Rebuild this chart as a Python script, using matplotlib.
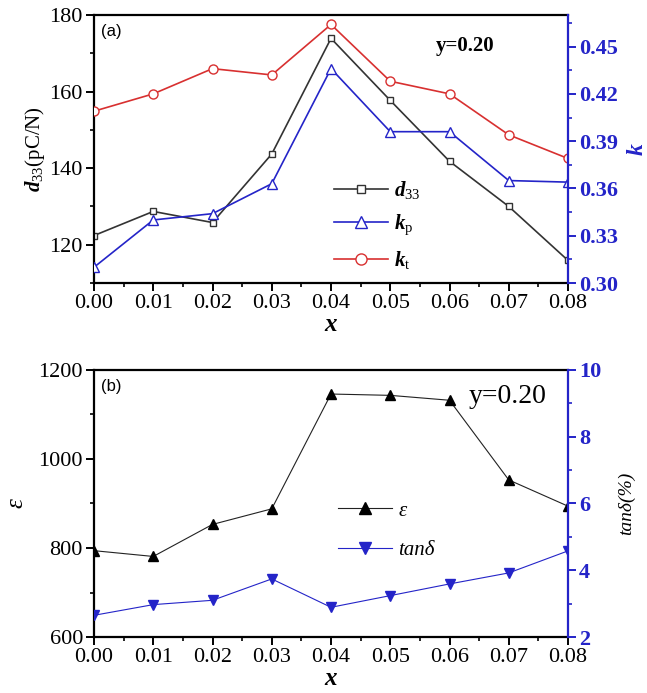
import matplotlib
matplotlib.use("Agg")
import matplotlib.pyplot as plt
from matplotlib.ticker import MultipleLocator
from matplotlib.lines import Line2D

plt.rcParams['font.family'] = 'Liberation Serif'
plt.rcParams['mathtext.fontset'] = 'custom'
plt.rcParams['mathtext.rm'] = 'Liberation Serif'
plt.rcParams['mathtext.it'] = 'Liberation Serif:italic'
plt.rcParams['mathtext.bf'] = 'Liberation Serif:italic:bold'

# composition x
x = [0.00, 0.01, 0.02, 0.03, 0.04, 0.05, 0.06, 0.07, 0.08]

# panel (a)
d33 = [122.4, 128.7, 125.8, 143.7, 173.9, 157.7, 141.8, 130.0, 115.9]
kp  = [0.310, 0.340, 0.344, 0.363, 0.436, 0.396, 0.396, 0.365, 0.364]
kt  = [0.409, 0.420, 0.436, 0.432, 0.464, 0.428, 0.420, 0.394, 0.379]

# panel (b)
eps  = [794, 781, 853, 888, 1146, 1143, 1132, 953, 894]
tand = [2.65, 2.97, 3.10, 3.74, 2.89, 3.24, 3.59, 3.92, 4.58]

BLUE = '#2424c8'
RED = '#d83030'

fig = plt.figure(figsize=(6.47, 6.93), dpi=100)
ax1 = fig.add_axes([0.1453, 0.5916, 0.7326, 0.3867])
ax3 = fig.add_axes([0.1453, 0.0808, 0.7326, 0.3853])


def style(ax, ax2):
    for s in ['left', 'bottom', 'top']:
        ax.spines[s].set_linewidth(1.6)
    ax.spines['right'].set_visible(False)
    for s in ['left', 'bottom', 'top']:
        ax2.spines[s].set_visible(False)
    ax2.spines['right'].set_color(BLUE)
    ax2.spines['right'].set_linewidth(1.6)
    ax.set_xlim(0, 0.08)
    ax.xaxis.set_major_locator(MultipleLocator(0.01))
    ax.xaxis.set_minor_locator(MultipleLocator(0.005))
    ax.tick_params(which='major', direction='out', length=6, width=1.4, labelsize=16, top=False, right=False, pad=2)
    ax.tick_params(which='minor', direction='out', length=3, width=1.2, top=False, right=False)
    ax2.tick_params(which='major', direction='out', length=6, width=1.4, colors=BLUE, labelsize=16, pad=2)
    ax2.tick_params(which='minor', direction='out', length=3, width=1.2, colors=BLUE)
    for lab in ax2.get_yticklabels():
        lab.set_fontweight('bold')
    ax.set_xticks(x)
    ax.set_xticklabels(['%.2f' % v for v in x])
    ax.set_xlabel('x', fontsize=18, fontstyle='italic', fontweight='bold', labelpad=0)


# ---- (a)
ax2 = ax1.twinx()
ax1.plot(x, d33, color='#333333', lw=1.2, marker='s', ms=5, mfc='white', mec='#333333', mew=1.0)
ax2.plot(x, kp, color=BLUE, lw=1.2, marker='^', ms=7, mfc='white', mec=BLUE, mew=1.0)
ax2.plot(x, kt, color=RED, lw=1.2, marker='o', ms=6.5, mfc='white', mec=RED, mew=1.0)
ax1.set_ylim(110, 180)
ax1.yaxis.set_major_locator(MultipleLocator(20))
ax1.yaxis.set_minor_locator(MultipleLocator(10))
ax2.set_ylim(0.30, 0.47)
ax2.set_yticks([0.30, 0.33, 0.36, 0.39, 0.42, 0.45])
ax2.yaxis.set_minor_locator(MultipleLocator(0.015))
style(ax1, ax2)
ax1.set_ylabel(r'$\mathbf{d}_{33}$(pC/N)', fontsize=15, labelpad=2)
ax2.set_ylabel('k', fontsize=17, fontstyle='italic', fontweight='bold', color=BLUE, labelpad=6)
ax1.text(0.015, 0.965, '(a)', transform=ax1.transAxes, fontsize=12, family='Liberation Sans', va='top')
ax1.text(0.72, 0.865, 'y=0.20', transform=ax1.transAxes, fontsize=15, fontweight='bold')
h = [Line2D([], [], color='#333333', lw=1.2, marker='s', ms=6, mfc='white', mec='#333333'),
     Line2D([], [], color=BLUE, lw=1.2, marker='^', ms=8, mfc='white', mec=BLUE),
     Line2D([], [], color=RED, lw=1.2, marker='o', ms=8, mfc='white', mec=RED)]
ax2.legend(h, [r'$\mathbf{d}_{33}$', r'$\mathbf{k}_{\rm p}$', r'$\mathbf{k}_{\rm t}$'],
           loc='upper left', bbox_to_anchor=(0.488, 0.42), frameon=False, fontsize=15,
           handlelength=2.6, handletextpad=0.3, labelspacing=0.58, borderaxespad=0)

# ---- (b)
ax4 = ax3.twinx()
ax3.plot(x, eps, color='#222222', lw=0.8, marker='^', ms=6.5, mfc='black', mec='black')
ax4.plot(x, tand, color=BLUE, lw=0.8, marker='v', ms=6.5, mfc=BLUE, mec=BLUE)
ax3.set_ylim(600, 1200)
ax3.yaxis.set_major_locator(MultipleLocator(200))
ax3.yaxis.set_minor_locator(MultipleLocator(100))
ax4.set_ylim(2, 10)
ax4.yaxis.set_major_locator(MultipleLocator(2))
ax4.yaxis.set_minor_locator(MultipleLocator(1))
style(ax3, ax4)
ax3.set_ylabel('ε', fontsize=18, fontstyle='italic', labelpad=8)
ax4.set_ylabel('tanδ(%)', fontsize=14, fontstyle='italic', labelpad=12)
ax3.text(0.015, 0.965, '(b)', transform=ax3.transAxes, fontsize=12, family='Liberation Sans', va='top')
ax3.text(0.79, 0.875, 'y=0.20', transform=ax3.transAxes, fontsize=20)
h2 = [Line2D([], [], color='#222222', lw=0.8, marker='^', ms=9, mfc='black', mec='black'),
      Line2D([], [], color=BLUE, lw=0.8, marker='v', ms=9, mfc=BLUE, mec=BLUE)]
leg = ax4.legend(h2, ['ε', 'tanδ'], loc='upper left', bbox_to_anchor=(0.497, 0.54), frameon=False,
                 fontsize=15, handlelength=2.6, handletextpad=0.3, labelspacing=0.95, borderaxespad=0)
for t in leg.get_texts():
    t.set_fontstyle('italic')

fig.savefig('out.png', dpi=100)
